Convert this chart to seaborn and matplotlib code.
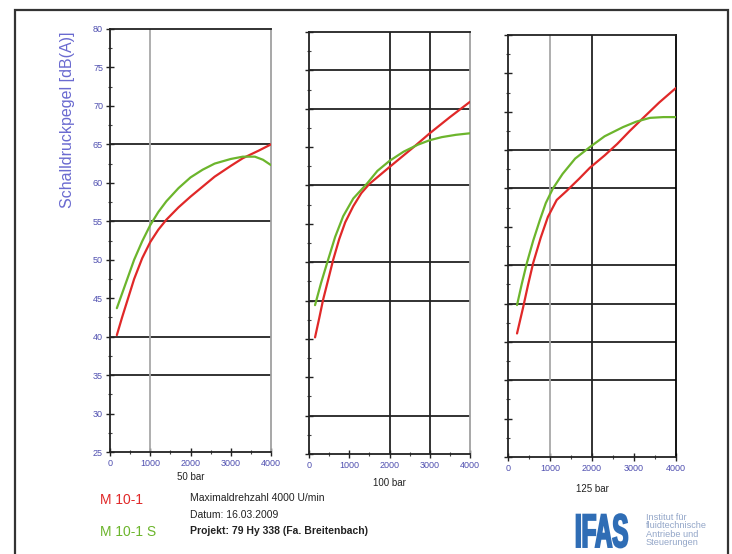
import pandas as pd
import matplotlib.pyplot as plt
import seaborn as sns
from matplotlib.ticker import MultipleLocator
from matplotlib.patches import Rectangle, PathPatch
from matplotlib.textpath import TextPath
from matplotlib.font_manager import FontProperties
from matplotlib.transforms import Affine2D

# --- Data ---
PANEL_TITLES = ['50 bar', '100 bar', '125 bar']
SERIES = ['M 10-1', 'M 10-1 S']

rpm_50_red = [170, 300, 450, 600, 800, 1000, 1200, 1400, 1700, 2000, 2300,
              2600, 3000, 3300, 3700, 4000]
db_50_red = [40.2, 42.5, 45.0, 47.5, 50.2, 52.3, 53.9, 55.2, 56.8, 58.2, 59.5,
             60.8, 62.2, 63.2, 64.2, 65.0]
rpm_50_green = [170, 300, 450, 600, 800, 1000, 1200, 1400, 1700, 2000, 2300,
                2600, 3000, 3300, 3600, 3800, 4000]
db_50_green = [43.7, 45.6, 47.8, 50.0, 52.4, 54.5, 56.2, 57.6, 59.3, 60.7, 61.7,
               62.5, 63.1, 63.4, 63.4, 63.0, 62.3]

rpm_100_red = [150, 250, 350, 500, 600, 750, 900, 1100, 1300, 1500, 1750, 2000,
               2300, 2600, 3000, 3500, 4000]
db_100_red = [40.2, 42.6, 45.1, 48.2, 50.3, 53.0, 55.2, 57.3, 59.0, 60.2, 61.3,
              62.4, 63.7, 65.0, 66.8, 68.9, 70.9]
rpm_100_green = [150, 300, 450, 650, 850, 1100, 1450, 1700, 2000, 2350, 2700,
                 3000, 3300, 3650, 4000]
db_100_green = [44.4, 47.3, 49.9, 53.3, 56.0, 58.3, 60.3, 61.9, 63.2, 64.4, 65.3,
                65.9, 66.3, 66.6, 66.8]

rpm_125_red = [215, 360, 480, 600, 780, 950, 1160, 1400, 1700, 1950, 2300, 2600,
               2900, 3220, 3600, 4000]
db_125_red = [41.1, 44.5, 47.5, 50.3, 53.6, 56.3, 58.5, 59.7, 61.3, 62.7, 64.3,
              65.8, 67.5, 69.2, 71.2, 73.1]
rpm_125_green = [215, 330, 450, 600, 760, 900, 1070, 1300, 1600, 1950, 2300,
                 2740, 3050, 3380, 3700, 4000]
db_125_green = [44.8, 47.6, 50.3, 53.2, 55.9, 58.1, 60.0, 61.9, 63.9, 65.4, 66.8,
                68.0, 68.7, 69.2, 69.3, 69.3]

# gridlines that appear in each panel of the original sheet
HLINES = [[65, 55, 40, 35], [75, 70, 60, 50, 45, 30], [65, 60, 50, 45, 40, 35]]
VLINES = [[(1000, 'gray')], [(2000, 'black'), (3000, 'black')],
          [(1000, 'gray'), (2000, 'black')]]
RIGHT_SPINE = ['#a0a0a0', '#a0a0a0', 'black']

INFO_LINES = ['Maximaldrehzahl 4000 U/min', 'Datum: 16.03.2009',
              'Projekt: 79 Hy 338 (Fa. Breitenbach)']

PALETTE = {'M 10-1': '#e02828', 'M 10-1 S': '#6cb52c'}
TICK_COLOR = '#5050b0'

# --- Build long-form frame ---
rows = []
curves = [(rpm_50_red, db_50_red, rpm_50_green, db_50_green),
          (rpm_100_red, db_100_red, rpm_100_green, db_100_green),
          (rpm_125_red, db_125_red, rpm_125_green, db_125_green)]
for title, (xr, yr, xg, yg) in zip(PANEL_TITLES, curves):
    for x, y in zip(xr, yr):
        rows.append({'panel': title, 'series': SERIES[0], 'rpm': x, 'db': y})
    for x, y in zip(xg, yg):
        rows.append({'panel': title, 'series': SERIES[1], 'rpm': x, 'db': y})
df = pd.DataFrame(rows)

sns.set_style('white')
plt.rcParams['font.family'] = ['Liberation Sans', 'DejaVu Sans']

fig = plt.figure(figsize=(7.32, 5.54), dpi=100)

# outer frame of the sheet (bottom edge runs off the page)
fig.patches.append(Rectangle((15 / 732, -0.05), 713 / 732, 1 - 10 / 554 + 0.05,
                             transform=fig.transFigure, fill=False,
                             edgecolor='#333333', linewidth=1.6))

axes_pos = [[110 / 732, 1 - 452 / 554, 161 / 732, 423 / 554],
            [309 / 732, 1 - 454 / 554, 161 / 732, 422 / 554],
            [508 / 732, 1 - 457 / 554, 168 / 732, 422 / 554]]
label_pads = [3, 6, 8]

for i, title in enumerate(PANEL_TITLES):
    ax = fig.add_axes(axes_pos[i])
    for h in HLINES[i]:
        ax.axhline(h, color='#222222', linewidth=1.3, zorder=1)
    for v, c in VLINES[i]:
        ax.axvline(v, color='#222222' if c == 'black' else '#a8a8a8',
                   linewidth=1.3, zorder=1)
    sns.lineplot(ax=ax, data=df[df['panel'] == title], x='rpm', y='db',
                 hue='series', palette=PALETTE, linewidth=1.6,
                 legend=False, zorder=3)
    ax.set_xlim(0, 4000)
    ax.set_ylim(25, 80)
    ax.xaxis.set_major_locator(MultipleLocator(1000))
    ax.xaxis.set_minor_locator(MultipleLocator(500))
    ax.yaxis.set_major_locator(MultipleLocator(5))
    ax.yaxis.set_minor_locator(MultipleLocator(2.5))
    ax.tick_params(which='major', direction='inout', length=6, width=1,
                   color='#222222', labelsize=6.5, labelcolor=TICK_COLOR, pad=2)
    ax.tick_params(which='minor', direction='inout', length=3, width=0.8,
                   color='#444444')
    ax.tick_params(left=True, bottom=True, which='both')
    for s in ['left', 'bottom', 'top']:
        ax.spines[s].set_color('#222222')
        ax.spines[s].set_linewidth(1.3)
    ax.spines['right'].set_color(RIGHT_SPINE[i])
    ax.spines['right'].set_linewidth(1.3)
    ax.set_xlabel(title, fontsize=7, color='#222222', labelpad=label_pads[i])
    if i == 0:
        ax.set_ylabel('Schalldruckpegel [dB(A)]', fontsize=11.5, color='#6a6ad0')
        ax.yaxis.set_label_coords(-0.22, 0.785)
    else:
        ax.set_ylabel('')
        ax.set_yticklabels([])

# --- Legend / info block ---
fig.text(100 / 732, 1 - 500 / 554, SERIES[0], color=PALETTE[SERIES[0]],
         fontsize=10, va='center', ha='left')
fig.text(100 / 732, 1 - 532 / 554, SERIES[1], color=PALETTE[SERIES[1]],
         fontsize=10, va='center', ha='left')
for k, (line, yy) in enumerate(zip(INFO_LINES, [498, 515, 531])):
    fig.text(190 / 732, 1 - yy / 554, line, fontsize=7.5, color='#222222',
             va='center', ha='left', fontweight='bold' if k == 2 else 'normal')

# institute logo: narrow, tall, heavy lettering
logo = TextPath((0, 0), 'IFAS', size=1,
                prop=FontProperties(family='Liberation Sans', weight='bold'))
logo_tf = Affine2D().scale(24, 47).translate(575, 7)
fig.patches.append(PathPatch(logo, transform=logo_tf, facecolor='#2f6db5',
                             edgecolor='#2f6db5', linewidth=1.4))
fig.text(646 / 732, 1 - 530 / 554,
         'Institut für\nfluidtechnische\nAntriebe und\nSteuerungen',
         fontsize=6.6, color='#93a6c8', va='center', ha='left', linespacing=0.95)

fig.savefig('out.png', dpi=100)
